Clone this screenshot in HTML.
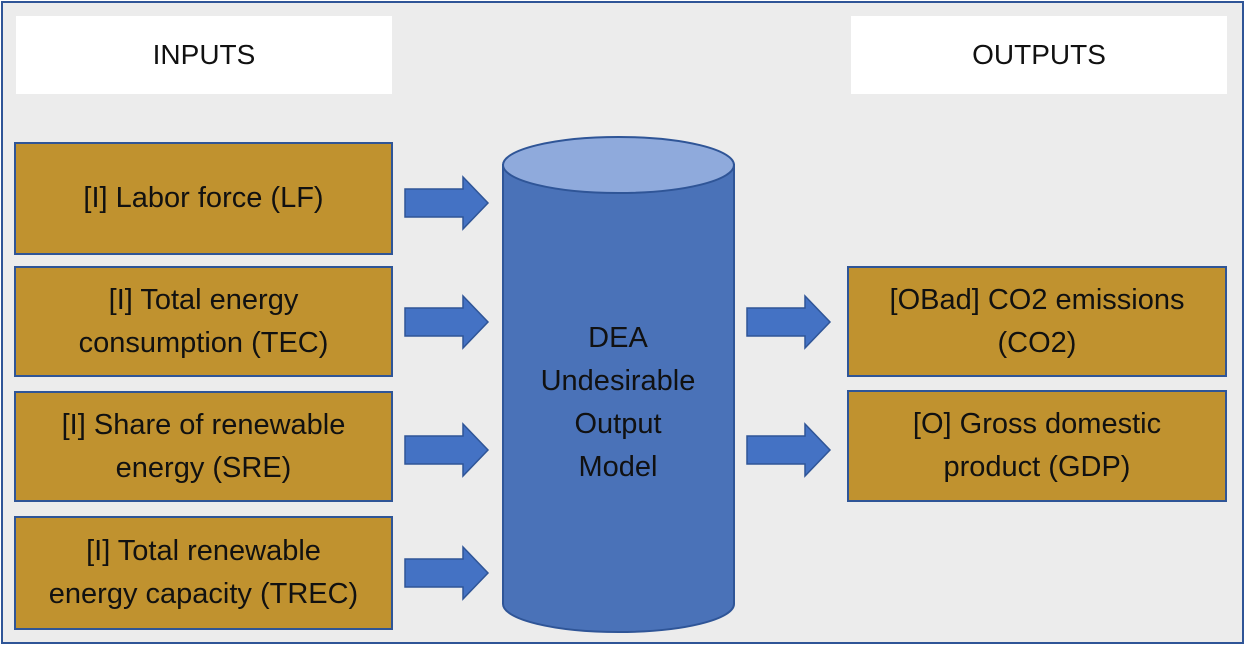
<!DOCTYPE html>
<html><head><style>
body{margin:0;width:1245px;height:646px;background:#fff;font-family:"Liberation Sans",sans-serif;}
.frame{position:absolute;left:1px;top:1px;width:1239px;height:639px;border:2px solid #2f5597;background:#ececec;}
.hdr{position:absolute;background:#fff;display:flex;align-items:center;justify-content:center;font-size:28px;color:#111;}
.bx{position:absolute;background:#c0922f;border:2px solid #2f5597;box-sizing:border-box;display:flex;align-items:center;justify-content:center;text-align:center;font-size:29px;line-height:43px;color:#111;white-space:nowrap;}
</style></head><body>
<div class="frame"></div>
<div class="hdr" style="left:16px;top:16px;width:376px;height:78px">INPUTS</div>
<div class="hdr" style="left:851px;top:16px;width:376px;height:78px">OUTPUTS</div>
<div class="bx" style="left:14px;top:142px;width:379px;height:113px">[I] Labor force (LF)</div>
<div class="bx" style="left:14px;top:266px;width:379px;height:111px">[I] Total energy<br>consumption (TEC)</div>
<div class="bx" style="left:14px;top:391px;width:379px;height:111px">[I] Share of renewable<br>energy (SRE)</div>
<div class="bx" style="left:14px;top:516px;width:379px;height:114px">[I] Total renewable<br>energy capacity (TREC)</div>
<div class="bx" style="left:847px;top:266px;width:380px;height:111px">[OBad] CO2 emissions<br>(CO2)</div>
<div class="bx" style="left:847px;top:390px;width:380px;height:112px">[O] Gross domestic<br>product (GDP)</div>
<svg width="1245" height="646" style="position:absolute;left:0;top:0">
<defs><g id="ar"><polygon points="0,-14 58,-14 58,-26 83,0 58,26 58,14 0,14" fill="#4472c4" stroke="#2f5597" stroke-width="1.5"/></g></defs>
<use href="#ar" x="405" y="203"/><use href="#ar" x="405" y="322"/>
<use href="#ar" x="405" y="450"/><use href="#ar" x="405" y="573"/>
<use href="#ar" x="747" y="322"/><use href="#ar" x="747" y="450"/>
<path d="M503,165 L503,604 A115.5,28 0 0 0 734,604 L734,165 Z" fill="#4a72b8" stroke="#2f5597" stroke-width="2"/>
<ellipse cx="618.5" cy="165" rx="115.5" ry="28" fill="#8faadc" stroke="#2f5597" stroke-width="2"/>
<text font-size="29" fill="#111" text-anchor="middle" font-family="Liberation Sans, sans-serif">
<tspan x="618" y="347">DEA</tspan><tspan x="618" y="390">Undesirable</tspan><tspan x="618" y="433">Output</tspan><tspan x="618" y="476">Model</tspan></text>
</svg>
</body></html>
